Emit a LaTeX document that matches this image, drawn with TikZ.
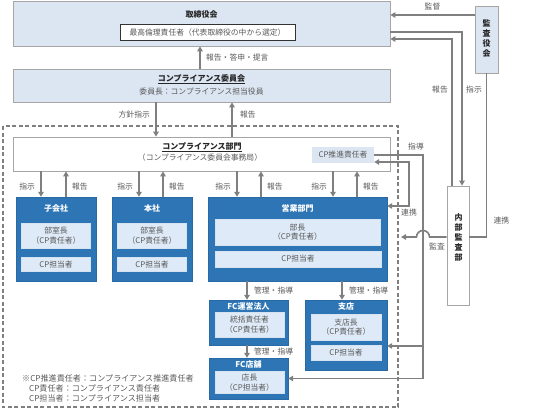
\documentclass[tikz,border=0pt]{standalone}
\usepackage{fontspec}
\setmainfont{Noto Sans CJK JP}
\usepackage{xcolor}
\usetikzlibrary{arrows.meta}
\definecolor{boxblue}{HTML}{2E75B6}
\definecolor{paleblue}{HTML}{DCE6F2}
\definecolor{innerblue}{HTML}{DEEAF7}
\definecolor{linegray}{HTML}{7F7F7F}
\definecolor{txtgray}{HTML}{595959}

\begin{document}
\begin{tikzpicture}[x=1pt,y=-1pt,font=\fontsize{7.8}{9.5}\selectfont,text=txtgray,
  gtip/.tip={Triangle[length=5pt,width=5.5pt]},
  pale/.style={draw=black!35,fill=paleblue,line width=0.8pt,inner sep=0pt},
  unit/.style={fill=boxblue,draw=boxblue!90!black,inner sep=0pt},
  inner/.style={fill=innerblue,draw=white!80!boxblue,line width=0.6pt,inner sep=0pt,align=center},
  ttl/.style={font=\fontsize{8}{10}\selectfont\bfseries,text=black!85,align=center},
  wttl/.style={ttl,text=white},
  conn/.style={draw=linegray,line width=1.6pt},
  arr/.style={conn,-gtip}]
  \useasboundingbox (0,0) rectangle (541,410);
  \node[pale,minimum width=377,minimum height=45] (board) at (201.5,23.5) {};
  \node[ttl] (board-t) at (201.5,14) {取締役会};
  \node[draw=black!80,fill=white,line width=0.8pt,minimum width=175,minimum height=16,inner sep=0pt] (cheo) at (207.5,32.5) {最高倫理責任者（代表取締役の中から選定）};
  \node[pale,minimum width=377,minimum height=33] (committee) at (201.5,85.5) {};
  \node[ttl] (committee-t) at (201.5,79) {\underline{コンプライアンス委員会}};
  \node (committee-s) at (201.5,92) {委員長：コンプライアンス担当役員};
  \node[pale,minimum width=23,minimum height=67] (audbd) at (486.5,39.5) {};
  \node[ttl] at (486.5,38.5) {監\\査\\役\\会};
  \draw[linegray,line width=1.2pt,dash pattern=on 4pt off 2.5pt] (3,126) rectangle (398,407);
  \node[draw=black!35,fill=white,line width=0.8pt,minimum width=377,minimum height=34,inner sep=0pt] (dept) at (201.5,154) {};
  \node[ttl] (dept-t) at (202,147) {\underline{コンプライアンス部門}};
  \node (dept-s) at (200,158) {（コンプライアンス委員会事務局）};
  \node[fill=paleblue,minimum width=62,minimum height=16,inner sep=0pt] (cpsuishin) at (343,155) {CP推進責任者};
  \foreach \nm/\cx/\ttl in {sub/56/子会社,hq/152/本社}{
    \node[unit,minimum width=80,minimum height=84] (\nm) at (\cx,239) {};
    \node[wttl] (\nm-t) at (\cx,208) {\ttl};
    \node[inner,minimum width=69,minimum height=25] (\nm-a) at (\cx,235.5) {部室長\\（CP責任者）};
    \node[inner,minimum width=69,minimum height=14] (\nm-b) at (\cx,264.5) {CP担当者};
  }
  \node[unit,minimum width=179,minimum height=84] (sales) at (297.5,239) {};
  \node[wttl] (sales-t) at (297.5,208) {営業部門};
  \node[inner,minimum width=165,minimum height=26] (sales-a) at (297.5,232) {部長\\（CP責任者）};
  \node[inner,minimum width=166,minimum height=16] (sales-b) at (298,259) {CP担当者};
  \node[unit,minimum width=79,minimum height=45] (fcop) at (248.5,322.5) {};
  \node[wttl] (fcop-t) at (248.5,306) {FC運営法人};
  \node[inner,minimum width=69,minimum height=25] (fcop-a) at (249.5,324.5) {統括責任者\\（CP責任者）};
  \node[unit,minimum width=82,minimum height=70] (branch) at (346,335) {};
  \node[wttl] (branch-t) at (346,306) {支店};
  \node[inner,minimum width=70,minimum height=26] (branch-a) at (346,327) {支店長\\（CP責任者）};
  \node[inner,minimum width=70,minimum height=15] (branch-b) at (346,352.5) {CP担当者};
  \node[unit,minimum width=79,minimum height=41] (fcshop) at (248.5,378.5) {};
  \node[wttl] (fcshop-t) at (248.5,364) {FC店舗};
  \node[inner,minimum width=69,minimum height=22] (fcshop-a) at (249.5,382.5) {店長\\（CP担当者）};
  \node[draw=black!35,fill=white,line width=0.8pt,minimum width=22,minimum height=119,inner sep=0pt] (audit) at (458,245.5) {};
  \node[ttl] (auditlbl) at (458.5,237) {内\\部\\監\\査\\部};
  \node[anchor=west,align=left,inner sep=0pt,font=\fontsize{8.1}{9.6}\selectfont] (note) at (22,388.5) {※CP推進責任者：コンプライアンス推進責任者\\\hspace*{7pt}CP責任者：コンプライアンス責任者\\\hspace*{7pt}CP担当者：コンプライアンス担当者};
  \draw[arr] (audbd.west |- 0,15) -- (board.east |- 0,15) node[midway,above=1pt] {監督};
  \draw[arr] (board.east |- 0,32) -| (462,0 |- audit.north);
  \draw[arr] (452,0 |- audit.north) |- (board.east |- 0,39);
  \node at (440,90) {報告};
  \node at (474,90) {指示};
  \draw[conn] (audbd.south) |- (audit.east |- auditlbl) node[pos=.45,right=3pt] {連携};
  \draw[arr] (200,0 |- committee.north) -- (200,0 |- board.south) node[midway,right=2pt] {報告・答申・提言};
  \draw[arr] (156,0 |- committee.south) -- (156,0 |- dept.north) node[pos=.35,left=2pt] {方針指示};
  \draw[arr] (232,0 |- dept.north) -- (232,0 |- committee.south) node[pos=.65,right=4pt] {報告};
  \foreach \d/\u/\t in {41/66/sub,139/163/hq,237/261/sales,333/357/sales}{
    \draw[arr] (\d,0 |- dept.south) -- (\d,0 |- \t.north) node[pos=.6,left=2pt] {指示};
    \draw[arr] (\u,0 |- \t.north) -- (\u,0 |- dept.south) node[pos=.4,right=2pt] {報告};
  }
  \draw[arr] (247,0 |- sales.south) -- (247,0 |- fcop.north) node[midway,right=3pt] {管理・指導};
  \draw[arr] (342,0 |- sales.south) -- (342,0 |- branch.north) node[midway,right=3pt] {管理・指導};
  \draw[arr] (247,0 |- fcop.south) -- (247,0 |- fcshop.north) node[midway,right=3pt] {管理・指導};
  \draw[arr] (cpsuishin.east) -| (423,0 |- fcshop.east) -- (fcshop.east);
  \node at (416,147) {指導};
  \coordinate (guide) at (423,346);
  \draw[arr] (guide) -- (branch.east |- guide);
  \draw[conn,gtip-gtip] (cpsuishin.east |- 0,162) -| (409,206) -- (sales.east |- 0,206);
  \node at (409,213) {連携};
  \coordinate (auditend) at (401,0 |- auditlbl);
  \draw[arr] (audit.west |- auditlbl) -- (429.5,0 |- auditlbl) arc[start angle=0,end angle=180,radius=6.5pt] -- (auditend);
  \node at (437,246) {監査};
\end{tikzpicture}
\end{document}
